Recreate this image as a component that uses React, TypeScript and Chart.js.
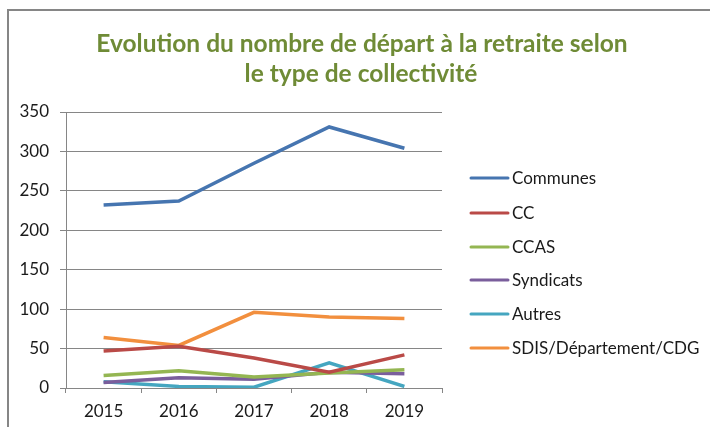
import React, { useEffect, useRef } from "react";
import { Chart, registerables } from "chart.js";

Chart.register(...registerables);

const years = ["2015", "2016", "2017", "2018", "2019"];
const communes = [232, 237, 285, 331, 304];
const cc = [47, 53, 38, 20, 42];
const ccas = [16, 22, 14, 19, 23];
const syndicats = [7, 13, 11, 20, 18];
const autres = [8, 2, 1, 32, 2];
const sdis = [64, 54, 96, 90, 88];

const seriesNames = ["Communes", "CC", "CCAS", "Syndicats", "Autres", "SDIS/Département/CDG"];
const seriesColors = ["#4675B0", "#BA4A47", "#94B652", "#7A5E9C", "#45A6C0", "#F28F3E"];
const titleLines = ["Evolution du nombre de départ à la retraite selon", "le type de collectivité"];

const FONT = "Lato, 'Open Sans', sans-serif";

const decorPlugin = {
  id: "decor",
  afterDraw(chart: any) {
    const ctx = chart.ctx;
    ctx.save();
    // title
    ctx.fillStyle = "#6F8B36";
    ctx.font = `bold 24.5px ${FONT}`;
    ctx.textAlign = "center";
    ctx.textBaseline = "middle";
    ctx.fillText(titleLines[0], 362, 44);
    ctx.fillText(titleLines[1], 361, 74);
    // legend
    ctx.font = `17px ${FONT}`;
    ctx.textAlign = "left";
    const ys = [178, 213, 247, 280, 314, 348];
    chart.data.datasets.forEach((ds: any, i: number) => {
      const y = ys[i];
      ctx.strokeStyle = ds.borderColor;
      ctx.lineWidth = 3;
      ctx.lineCap = "round";
      ctx.beginPath();
      ctx.moveTo(471, y);
      ctx.lineTo(508, y);
      ctx.stroke();
      ctx.fillStyle = "#1a1a1a";
      ctx.fillText(ds.label, 512, y + 1);
    });
    ctx.restore();
  },
};

export default function App() {
  const ref = useRef<HTMLCanvasElement>(null);
  useEffect(() => {
    const values = [communes, cc, ccas, syndicats, autres, sdis];
    const chart = new Chart(ref.current!, {
      type: "line",
      data: {
        labels: years,
        datasets: values.map((v, i) => ({
          label: seriesNames[i],
          data: v,
          borderColor: seriesColors[i],
          backgroundColor: seriesColors[i],
          borderWidth: 3.5,
          pointRadius: 0,
          tension: 0,
        })),
      },
      options: {
        animation: false,
        responsive: false,
        layout: { padding: { left: 0, top: 112, right: 268, bottom: 0 } },
        plugins: {
          legend: { display: false },
          title: { display: false },
          tooltip: { enabled: false },
        },
        scales: {
          x: {
            offset: true,
            afterFit: (s: any) => {
              s.height = 39;
            },
            grid: {
              offset: true,
              drawOnChartArea: false,
              drawTicks: true,
              tickLength: 5,
              color: "#868686",
            },
            border: { color: "#868686", width: 1 },
            ticks: { color: "#1a1a1a", font: { family: FONT, size: 17 }, padding: 8 },
          },
          y: {
            min: 0,
            max: 350,
            afterFit: (s: any) => {
              s.width = 66;
            },
            ticks: { stepSize: 50, color: "#1a1a1a", font: { family: FONT, size: 17 }, padding: 11 },
            grid: { color: "#868686", tickLength: 6, drawTicks: true },
            border: { color: "#868686", width: 1 },
          },
        },
      },
      plugins: [decorPlugin],
    });
    return () => chart.destroy();
  }, []);
  return (
    <div style={{ position: "absolute", left: 0, top: 0, width: 710, height: 427, overflow: "hidden", background: "#fff" }}>
      <div
        style={{
          position: "absolute",
          left: 7,
          top: 9,
          width: 800,
          height: 500,
          borderLeft: "2px solid #868686",
          borderTop: "2px solid #868686",
        }}
      />
      <canvas ref={ref} width={710} height={427} style={{ position: "absolute", left: 0, top: 0 }} />
    </div>
  );
}
